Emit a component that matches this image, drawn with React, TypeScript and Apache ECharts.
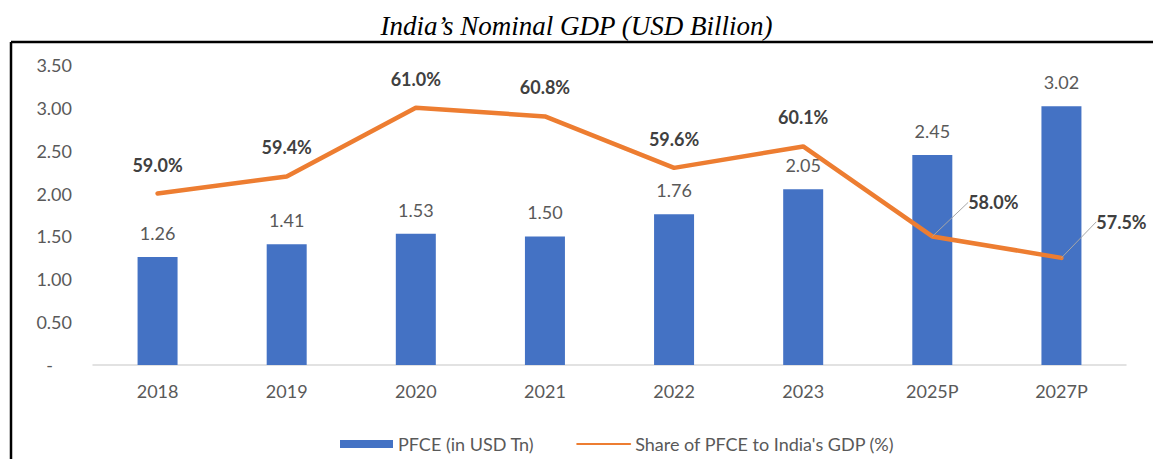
import React, { useEffect, useRef } from "react";
import * as echarts from "echarts";

const categories = ["2018", "2019", "2020", "2021", "2022", "2023", "2025P", "2027P"];
const pfceValues = [1.26, 1.41, 1.53, 1.5, 1.76, 2.05, 2.45, 3.02];
const shareValues = [59.0, 59.4, 61.0, 60.8, 59.6, 60.1, 58.0, 57.5];
const leaderLabelCategories = ["2025P", "2027P"];
const titleText = "India\u2019s Nominal GDP (USD Billion)";
const barName = "PFCE (in USD Tn)";
const lineName = "Share of PFCE to India's GDP (%)";

export default function App() {
  const ref = useRef<HTMLDivElement>(null);
  useEffect(() => {
    if (!ref.current) return;
    const chart = echarts.init(ref.current, undefined, { renderer: "svg" });
    const font = "Lato, 'Open Sans', sans-serif";
    const lineData = shareValues.map((v, i) => ({
      value: v,
      labelLine: { show: leaderLabelCategories.includes(categories[i]) },
    }));
    chart.setOption({
      animation: false,
      backgroundColor: "#ffffff",
      title: {
        text: titleText,
        left: "center",
        top: 7,
        textStyle: {
          fontFamily: "'Liberation Serif', 'Times New Roman', serif",
          fontStyle: "italic",
          fontWeight: "normal",
          fontSize: 27,
          color: "#000000",
        },
      },
      graphic: [
        { type: "line", shape: { x1: 11, y1: 42, x2: 1160, y2: 42 }, style: { stroke: "#000", lineWidth: 2.5 } },
        { type: "line", shape: { x1: 11, y1: 42, x2: 11, y2: 470 }, style: { stroke: "#000", lineWidth: 2.5 } },
      ],
      legend: {
        left: 335,
        top: 430,
        itemGap: 42,
        itemWidth: 53,
        itemHeight: 8,
        textStyle: { fontFamily: font, fontSize: 18, color: "#595959" },
        data: [
          { name: barName, icon: "rect" },
          { name: lineName, itemStyle: { opacity: 0 } },
        ],
      },
      grid: { left: 93, right: 27, top: 65, bottom: 94, containLabel: false },
      xAxis: {
        type: "category",
        data: categories,
        axisLine: { lineStyle: { color: "#d9d9d9", width: 1.5 } },
        axisTick: { show: false },
        axisLabel: { fontFamily: font, fontSize: 18, color: "#595959", margin: 17 },
      },
      yAxis: [
        {
          type: "value",
          min: 0,
          max: 3.5,
          interval: 0.5,
          splitLine: { show: false },
          axisLine: { show: false },
          axisTick: { show: false },
          axisLabel: {
            fontFamily: font,
            fontSize: 18,
            color: "#595959",
            margin: 21,
            formatter: (v: number) => (v === 0 ? "{d|-}" : v.toFixed(2)),
            rich: { d: { fontFamily: font, fontSize: 18, color: "#595959", padding: [0, 19, 0, 0] } },
          },
        },
        {
          type: "value",
          min: 55,
          max: 62,
          show: false,
          splitLine: { show: false },
        },
      ],
      series: [
        {
          name: barName,
          type: "bar",
          data: pfceValues,
          barWidth: 40,
          itemStyle: { color: "#4472C4" },
          label: {
            show: true,
            position: "top",
            distance: 15,
            fontFamily: font,
            fontSize: 18,
            color: "#595959",
            formatter: (p: any) => Number(p.value).toFixed(2),
          },
        },
        {
          name: lineName,
          type: "line",
          yAxisIndex: 1,
          data: lineData,
          symbol: "circle",
          symbolSize: 0,
          showSymbol: true,
          lineStyle: { color: "#ED7D31", width: 4.5, cap: "round" },
          itemStyle: { color: "#ED7D31" },
          label: {
            show: true,
            position: "top",
            distance: 20,
            fontFamily: font,
            fontSize: 18,
            fontWeight: "bold",
            color: "#404040",
            formatter: (p: any) => Number(p.value).toFixed(1) + "%",
          },
          labelLine: { show: false, lineStyle: { color: "#a6a6a6", width: 1 } },
          labelLayout: (p: any) => {
            if (p.dataIndex === 6) return { dx: 61, dy: -5 };
            if (p.dataIndex === 7) return { dx: 60, dy: -7 };
            return {};
          },
        },
      ],
    });
    return () => chart.dispose();
  }, []);
  return (
    <div style={{ position: "absolute", left: 0, top: 0, width: 1153, height: 459 }}>
      <div ref={ref} style={{ width: 1153, height: 459 }} />
    </div>
  );
}
